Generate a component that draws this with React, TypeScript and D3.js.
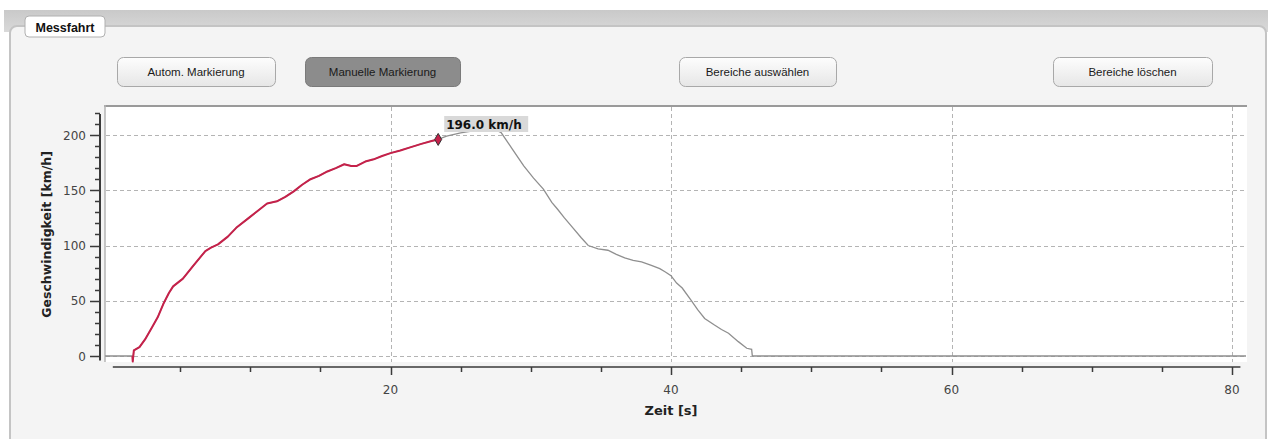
import React, { useEffect, useRef } from "react";
import * as d3 from "d3";

// ---- data ----
const timeS = [-0.35, 1.6, 1.62, 1.7, 2.1, 2.5, 3.0, 3.4, 3.8, 4.2, 4.5, 5.2, 5.9, 6.8, 7.2, 7.7, 8.4, 9.0, 9.9, 10.5, 11.2, 11.9, 12.5, 13.1, 13.7, 14.3, 14.9, 15.5, 16.1, 16.7, 17.2, 17.6, 18.2, 18.8, 19.4, 20.0, 20.7, 21.4, 22.2, 23.0, 23.4, 24.0, 25.0, 26.0, 27.3, 27.9, 28.7, 29.5, 30.2, 30.9, 31.5, 31.9, 32.4, 32.9, 33.6, 34.1, 34.8, 35.5, 36.1, 36.7, 37.3, 37.9, 38.6, 39.2, 39.6, 40.0, 40.4, 40.8, 41.4, 41.9, 42.4, 43.1, 43.6, 44.1, 44.8, 45.4, 45.75, 45.8, 81];
const speedKmh = [0, 0, -5, 5, 8, 15, 26, 35, 47, 57, 63, 70, 81, 95, 98, 101, 108, 116, 125, 131, 138, 140, 144, 149, 155, 160, 163, 167, 170, 173.5, 172, 172, 176, 178, 181, 183.6, 186, 188.8, 192, 194.8, 196, 199, 202, 204, 206, 202, 187, 172, 161, 151, 139, 133, 125, 117.5, 107, 100, 97, 95.7, 92, 88.8, 86.5, 85.2, 82, 79, 76, 72.7, 66, 61.5, 51, 42, 34, 28, 24, 20.6, 13, 7, 6, 0, 0];
const redStartT = 1.6;
const markerT = 23.4;
const markerV = 196;
const markerLabel = "196.0 km/h";

const xTicksMajor = [20, 40, 60, 80];
const yTicksMajor = [0, 50, 100, 150, 200];

const buttons = [
  { label: "Autom. Markierung", active: false },
  { label: "Manuelle Markierung", active: true },
  { label: "Bereiche auswählen", active: false },
  { label: "Bereiche löschen", active: false },
];
const buttonX = [117, 305, 679, 1053];
const buttonW = [158, 155, 157, 159];

const xTitle = "Zeit [s]";
const yTitle = "Geschwindigkeit [km/h]";
const groupTitle = "Messfahrt";

const W = 1270;
const H = 439;
const UI_FONT = "'Liberation Sans', 'DejaVu Sans', sans-serif";
const PLOT_FONT = "'DejaVu Sans', Verdana, sans-serif";

export default function App() {
  const ref = useRef<SVGSVGElement | null>(null);

  useEffect(() => {
    const svg = d3.select(ref.current);
    svg.selectAll("*").remove();

    const x = d3.scaleLinear().domain([0, 80]).range([110, 1232]);
    const y = d3.scaleLinear().domain([0, 200]).range([356, 135]);

    const defs = svg.append("defs");
    const g1 = defs.append("linearGradient").attr("id", "btn").attr("x1", 0).attr("y1", 0).attr("x2", 0).attr("y2", 1);
    g1.append("stop").attr("offset", "0%").attr("stop-color", "#fdfdfd");
    g1.append("stop").attr("offset", "100%").attr("stop-color", "#e6e6e6");
    const g2 = defs.append("linearGradient").attr("id", "band").attr("x1", 0).attr("y1", 0).attr("x2", 0).attr("y2", 1);
    g2.append("stop").attr("offset", "0%").attr("stop-color", "#c9c9c9");
    g2.append("stop").attr("offset", "100%").attr("stop-color", "#d9d9d9");

    // page background
    svg.append("rect").attr("x", 0).attr("y", 0).attr("width", W).attr("height", H).attr("fill", "#ffffff");
    svg.append("rect").attr("x", 4).attr("y", 10).attr("width", W - 6).attr("height", 22).attr("fill", "url(#band)");
    // group box
    svg.append("rect").attr("x", 10).attr("y", 26).attr("width", W - 14).attr("height", H).attr("rx", 7)
      .attr("fill", "#f4f4f4").attr("stroke", "#c4c4c4").attr("stroke-width", 2);
    // title tab
    svg.append("rect").attr("x", 25).attr("y", 16).attr("width", 80).attr("height", 21).attr("rx", 4)
      .attr("fill", "#ffffff").attr("stroke", "#b0b0b0").attr("stroke-width", 1);
    svg.append("text").attr("x", 65).attr("y", 31.5).attr("text-anchor", "middle")
      .attr("font-family", UI_FONT).attr("font-weight", "bold").attr("font-size", 12.5).attr("fill", "#111")
      .text(groupTitle);

    // buttons
    buttons.forEach((b, i) => {
      const bx = buttonX[i];
      const bw = buttonW[i];
      svg.append("rect").attr("x", bx + 0.5).attr("y", 57.5).attr("width", bw).attr("height", 29).attr("rx", 6)
        .attr("fill", b.active ? "#8c8c8c" : "url(#btn)")
        .attr("stroke", b.active ? "#7a7a7a" : "#a8a8a8").attr("stroke-width", 1);
      svg.append("text").attr("x", bx + bw / 2).attr("y", 76).attr("text-anchor", "middle")
        .attr("font-family", UI_FONT).attr("font-size", 11.5).attr("fill", "#1a1a1a")
        .text(b.label);
    });

    // plot area
    svg.append("rect").attr("x", 105).attr("y", 106).attr("width", 1142).attr("height", 256).attr("fill", "#ffffff");
    svg.append("line").attr("x1", 104).attr("x2", 1247).attr("y1", 106).attr("y2", 106)
      .attr("stroke", "#9a9a9a").attr("stroke-width", 2);
    svg.append("line").attr("x1", 105).attr("x2", 105).attr("y1", 105).attr("y2", 362)
      .attr("stroke", "#b5b5b5").attr("stroke-width", 1.5);

    // grid
    const grid = svg.append("g").attr("stroke", "#b4b4b4").attr("stroke-width", 1).attr("stroke-dasharray", "4,3");
    yTicksMajor.forEach((v) => {
      grid.append("line").attr("x1", 106).attr("x2", 1247).attr("y1", Math.round(y(v)) + 0.5).attr("y2", Math.round(y(v)) + 0.5);
    });
    xTicksMajor.forEach((v) => {
      grid.append("line").attr("x1", Math.round(x(v)) + 0.5).attr("x2", Math.round(x(v)) + 0.5).attr("y1", 107).attr("y2", 362);
    });

    // y axis
    const yAxis = svg.append("g").attr("stroke", "#3a3a3a");
    yAxis.append("line").attr("x1", 100).attr("x2", 100).attr("y1", y(219)).attr("y2", y(-4))
      .attr("stroke-width", 2);
    d3.range(0, 221, 10).forEach((v) => {
      const major = v % 50 === 0;
      yAxis.append("line").attr("x1", major ? 90 : 95).attr("x2", 100)
        .attr("y1", Math.round(y(v)) + 0.5).attr("y2", Math.round(y(v)) + 0.5).attr("stroke-width", 1.5);
    });
    yTicksMajor.forEach((v) => {
      svg.append("text").attr("x", 86).attr("y", y(v) + 4.5).attr("text-anchor", "end")
        .attr("font-family", PLOT_FONT).attr("font-size", 12).attr("fill", "#444").text(String(v));
    });

    // x axis
    const xAxis = svg.append("g").attr("stroke", "#3a3a3a");
    xAxis.append("line").attr("x1", x(0.2)).attr("x2", x(80.6)).attr("y1", 367).attr("y2", 367).attr("stroke-width", 1.5);
    d3.range(5, 81, 5).forEach((v) => {
      const major = v % 20 === 0;
      xAxis.append("line").attr("x1", Math.round(x(v)) + 0.5).attr("x2", Math.round(x(v)) + 0.5)
        .attr("y1", 367).attr("y2", major ? 375 : 372).attr("stroke-width", 1.5);
    });
    xTicksMajor.forEach((v) => {
      svg.append("text").attr("x", x(v)).attr("y", 394).attr("text-anchor", "middle")
        .attr("font-family", PLOT_FONT).attr("font-size", 12).attr("fill", "#444").text(String(v));
    });

    // axis titles
    svg.append("text").attr("x", x(40)).attr("y", 415).attr("text-anchor", "middle")
      .attr("font-family", PLOT_FONT).attr("font-weight", "bold").attr("font-size", 13).attr("fill", "#222")
      .text(xTitle);
    svg.append("text").attr("transform", `translate(51,${y(110)}) rotate(-90)`).attr("text-anchor", "middle")
      .attr("font-family", PLOT_FONT).attr("font-weight", "bold").attr("font-size", 12.5).attr("fill", "#222")
      .text(yTitle);

    // data
    const pts = timeS.map((t, i) => ({ t, v: speedKmh[i] }));
    const line = d3.line<{ t: number; v: number }>().x((d) => x(d.t)).y((d) => y(d.v));
    svg.append("path").datum(pts).attr("d", line).attr("fill", "none")
      .attr("stroke", "#8f8f8f").attr("stroke-width", 1.3);
    const redPts = pts.filter((d) => d.t >= redStartT && d.t <= markerT);
    svg.append("path").datum(redPts).attr("d", line).attr("fill", "none")
      .attr("stroke", "#c5214a").attr("stroke-width", 2).attr("stroke-linejoin", "round");

    // marker
    const mx = x(markerT);
    const my = y(markerV);
    svg.append("path")
      .attr("d", `M${mx},${my - 6} L${mx + 3.5},${my} L${mx},${my + 6} L${mx - 3.5},${my} Z`)
      .attr("fill", "#c5214a").attr("stroke", "#333").attr("stroke-width", 1);

    // label
    svg.append("rect").attr("x", mx + 6).attr("y", 116).attr("width", 84).attr("height", 16)
      .attr("fill", "#d9d9d9");
    svg.append("text").attr("x", mx + 8).attr("y", 128.5)
      .attr("font-family", PLOT_FONT).attr("font-weight", "bold").attr("font-size", 12).attr("fill", "#111")
      .text(markerLabel);
  }, []);

  return (
    <svg
      ref={ref}
      width={W}
      height={H}
      style={{ position: "absolute", left: 0, top: 0, display: "block" }}
    />
  );
}
